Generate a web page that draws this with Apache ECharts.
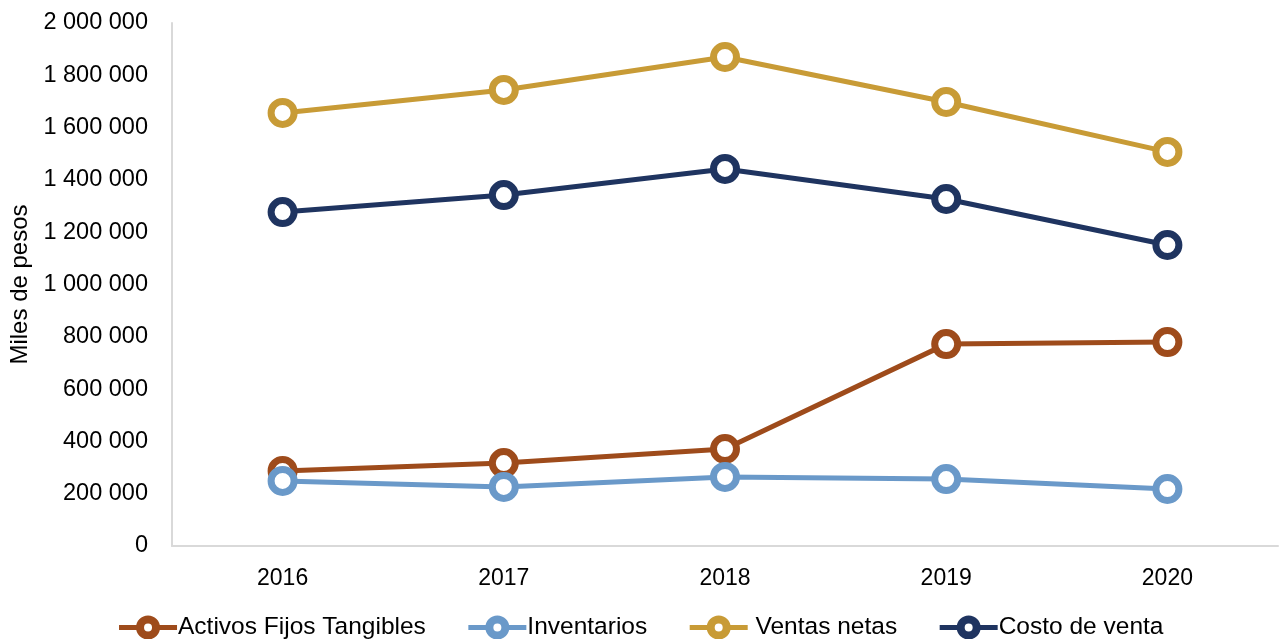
<!DOCTYPE html>
<html>
<head>
<meta charset="utf-8">
<script src="https://cdn.jsdelivr.net/npm/echarts@6/dist/echarts.min.js"></script>
<style>
	html, body { margin: 0; padding: 0; background: #fff; }
	#chart { width: 1280px; height: 639px; }
</style>
</head>
<body>
<div id="chart"></div>
<script>
const years = ['2016', '2017', '2018', '2019', '2020']
const activos = [287000, 317000, 371000, 772000, 780000]
const inventarios = [249000, 226000, 264000, 256000, 218000]
const ventas = [1656000, 1744000, 1870000, 1698000, 1507000]
const costo = [1277000, 1342000, 1442000, 1327000, 1151000]
const yTicks = [0, 200000, 400000, 600000, 800000, 1000000, 1200000, 1400000, 1600000, 1800000, 2000000]

const font = 'Liberation Sans, Arial, sans-serif'

function fmt(v) {
	return String(v).replace(/\B(?=(\d{3})+(?!\d))/g, ' ')
}

function lineSeries(name, data, color) {
	return {
		name: name,
		type: 'line',
		data: data,
		symbol: 'circle',
		symbolSize: 23,
		showSymbol: true,
		lineStyle: { color: color, width: 5 },
		itemStyle: { color: '#fff', borderColor: color, borderWidth: 7 },
		emphasis: { disabled: true },
	}
}

function legendItem(name, color) {
	return {
		name: name,
		itemStyle: { color: '#fff', borderColor: color, borderWidth: 8 },
		lineStyle: { color: color, width: 5 },
	}
}

const chart = echarts.init(document.getElementById('chart'))

chart.setOption({
	animation: false,
	textStyle: { fontFamily: font },
	grid: { left: 172, right: 2, top: 23, bottom: 93 },
	legend: {
		bottom: -6,
		left: 'center',
		itemWidth: 58,
		itemHeight: 20,
		itemGap: 40,
		textStyle: { fontSize: 24.5, color: '#000', fontFamily: font, padding: [0, 0, 0, -4] },
		data: [
			legendItem('Activos Fijos Tangibles', '#9E4B1B'),
			legendItem('Inventarios', '#6A99C9'),
			legendItem(' Ventas netas', '#C89B36'),
			legendItem('Costo de venta', '#1F3460'),
		],
	},
	xAxis: {
		type: 'category',
		data: years,
		boundaryGap: true,
		axisLine: { lineStyle: { color: '#D9D9D9', width: 2 } },
		axisTick: { show: false },
		axisLabel: { fontSize: 23, color: '#000', margin: 21 },
	},
	yAxis: {
		type: 'value',
		min: yTicks[0],
		max: yTicks[yTicks.length - 1],
		interval: 200000,
		name: 'Miles de pesos',
		nameLocation: 'middle',
		nameGap: 132,
		nameRotate: 90,
		nameTextStyle: { fontSize: 24, color: '#000' },
		axisLine: { show: true, lineStyle: { color: '#D9D9D9', width: 2 } },
		axisTick: { show: false },
		splitLine: { show: false },
		axisLabel: { fontSize: 23.5, color: '#000', margin: 24, formatter: fmt },
	},
	series: [
		lineSeries('Activos Fijos Tangibles', activos, '#9E4B1B'),
		lineSeries('Inventarios', inventarios, '#6A99C9'),
		lineSeries(' Ventas netas', ventas, '#C89B36'),
		lineSeries('Costo de venta', costo, '#1F3460'),
	],
})
</script>
</body>
</html>
